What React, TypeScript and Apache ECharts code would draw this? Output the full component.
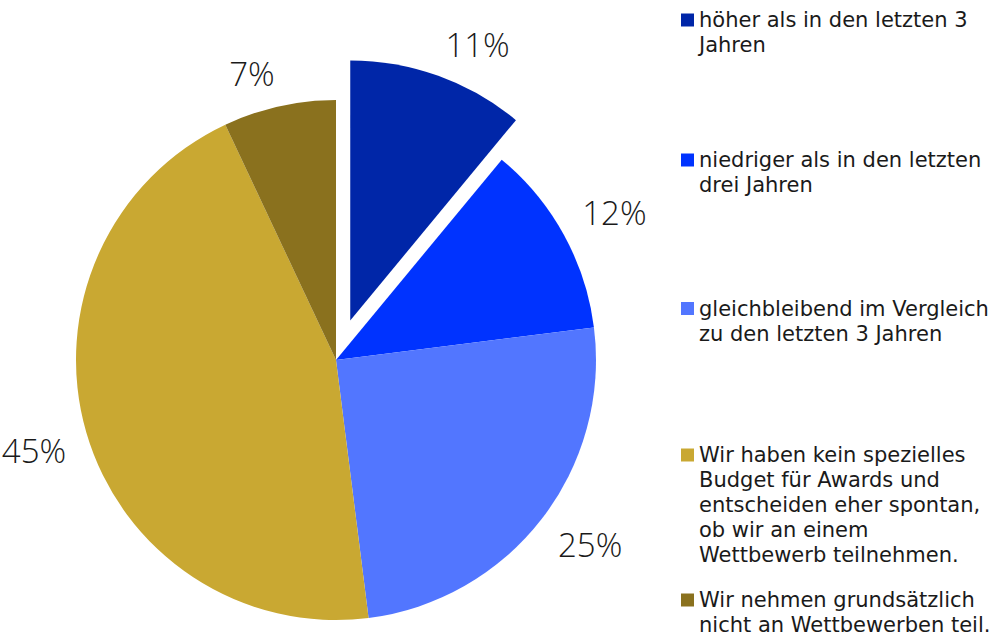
import React, { useEffect, useRef } from "react";
import * as echarts from "echarts";

const categories = [
  "höher als in den letzten 3 Jahren",
  "niedriger als in den letzten drei Jahren",
  "gleichbleibend im Vergleich zu den letzten 3 Jahren",
  "Wir haben kein spezielles Budget für Awards und entscheiden eher spontan, ob wir an einem Wettbewerb teilnehmen.",
  "Wir nehmen grundsätzlich nicht an Wettbewerben teil.",
];
const legendLabels = [
  "höher als in den letzten 3\nJahren",
  "niedriger als in den letzten\ndrei Jahren",
  "gleichbleibend im Vergleich\nzu den letzten 3 Jahren",
  "Wir haben kein spezielles\nBudget für Awards und\nentscheiden eher spontan,\nob wir an einem\nWettbewerb teilnehmen.",
  "Wir nehmen grundsätzlich\nnicht an Wettbewerben teil.",
];
const values = [11, 12, 25, 45, 7];
const colors = ["#0026A8", "#0033FF", "#5276FF", "#C9A832", "#8A711E"];
const explodedIndex = 0;

const legendIconCenters = [20, 160, 308.5, 455, 600];
const LH = 25;
const CX = 336;
const CY = 360;
const R = 260;
const OFFSET = 42;
const GAP = 21;
const LABEL_SIZE = 33;

export default function App() {
  const ref = useRef<HTMLDivElement>(null);
  useEffect(() => {
    if (!ref.current) return;
    const chart = echarts.init(ref.current, undefined, { renderer: "svg" });
    const total = values.reduce((a, b) => a + b, 0);
    const cum: number[] = [];
    values.reduce((acc, v, i) => {
      cum[i] = acc;
      return acc + v;
    }, 0);
    const data = categories.map((name, i) => ({
      name,
      value: values[i],
      selected: i === explodedIndex,
      itemStyle: { color: colors[i] },
    }));
    const legends = categories.map((name, i) => {
      const n = legendLabels[i].split("\n").length;
      return {
        data: [name],
        orient: "vertical",
        left: 681,
        top: legendIconCenters[i] - ((2 * n - 1) * LH) / 2,
        padding: 0,
        itemWidth: 13,
        itemHeight: 13,
        icon: "rect",
        selectedMode: false,
        formatter: () => "\n".repeat(n - 1) + legendLabels[i],
        textStyle: {
          fontFamily: "DejaVu Sans",
          fontSize: 21,
          color: "#1a1a1a",
          lineHeight: LH,
        },
      };
    });
    chart.setOption({
      animation: false,
      backgroundColor: "#ffffff",
      legend: legends,
      series: [
        {
          type: "pie",
          center: [CX, CY],
          radius: [0, R],
          startAngle: 90,
          clockwise: true,
          selectedMode: "single",
          selectedOffset: OFFSET,
          label: { show: false },
          labelLine: { show: false },
          emphasis: { disabled: true },
          data,
        },
        {
          // transparent twin that carries the percentage labels
          type: "pie",
          center: [CX, CY],
          radius: [0, R],
          startAngle: 90,
          clockwise: true,
          silent: true,
          selectedMode: false,
          avoidLabelOverlap: false,
          itemStyle: { color: "rgba(0,0,0,0)" },
          label: {
            show: true,
            position: "outside",
            formatter: "{c}%",
            fontFamily: "Open Sans",
            fontWeight: 300,
            fontSize: LABEL_SIZE,
            color: "#1a1a1a",
          },
          labelLine: { show: false },
          labelLayout: (params: any) => {
            const i = params.dataIndex;
            const mid = ((cum[i] + values[i] / 2) / total) * Math.PI * 2;
            const dx = Math.sin(mid);
            const dy = -Math.cos(mid);
            const off = i === explodedIndex ? OFFSET : 0;
            const cornerX = CX + dx * (off + R + GAP);
            const cornerY = CY + dy * (off + R + GAP);
            const hw = params.labelRect.width / 2;
            const hh = LABEL_SIZE * 0.36;
            return {
              x: cornerX + Math.sign(dx) * hw,
              y: cornerY + Math.sign(dy) * hh,
              align: "center",
              verticalAlign: "middle",
            };
          },
          emphasis: { disabled: true },
          data: categories.map((name, i) => ({
            name,
            value: values[i],
            itemStyle: { color: "rgba(0,0,0,0)" },
          })),
        },
      ],
    });
    return () => chart.dispose();
  }, []);
  return (
    <div
      ref={ref}
      style={{ position: "fixed", left: 0, top: 0, width: 1001, height: 636 }}
    />
  );
}
